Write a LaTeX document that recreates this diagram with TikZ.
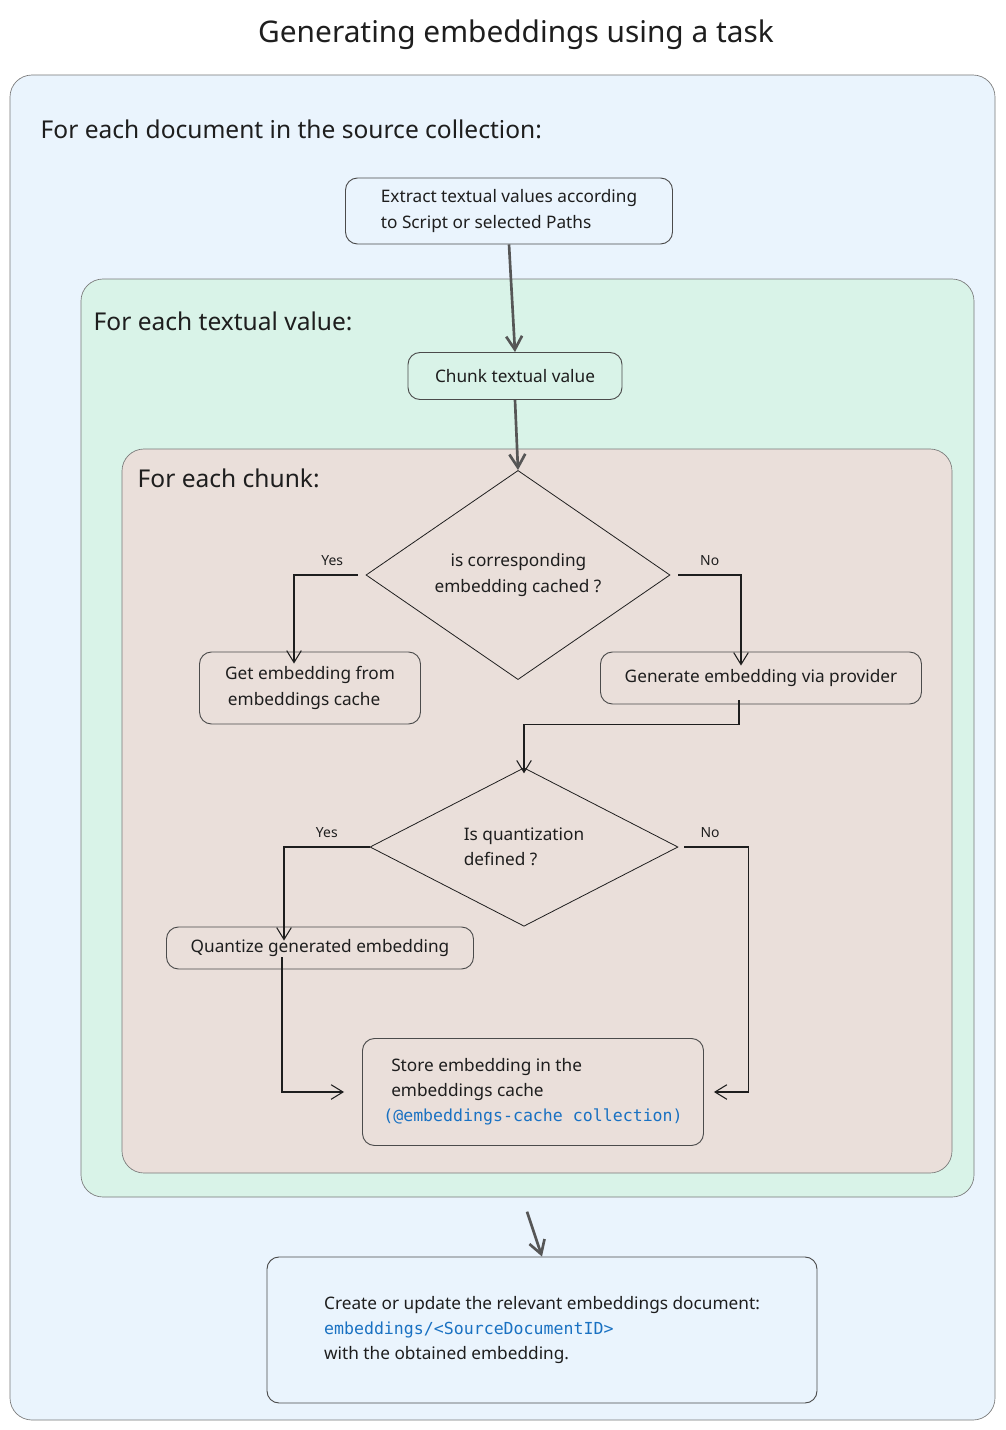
\documentclass[tikz,border=0pt]{standalone}
\usepackage{fontspec}
\setmainfont{Noto Sans}
\newfontfamily\codefont{DejaVu Sans Mono}
\usetikzlibrary{positioning,shapes.geometric,arrows.meta,calc}
\definecolor{outerbg}{HTML}{EAF4FD}
\definecolor{greenbg}{HTML}{D9F3E8}
\definecolor{chunkbg}{HTML}{EADFDA}
\definecolor{ink}{HTML}{1E1E1E}
\definecolor{codeblue}{HTML}{1971C2}
\def\u{0.0265cm}
\tikzset{
  frame/.style={draw=ink!60,rounded corners=22*\u,line width=0.5pt},
  task/.style={draw=ink!80,rounded corners=12*\u,line width=0.7pt,align=left,
    font=\fontsize{13}{19}\selectfont,text=ink,inner sep=0pt},
  choice/.style={diamond,draw=ink,line width=0.6pt,align=left,inner sep=0pt,
    font=\fontsize{13}{19}\selectfont,text=ink},
  head/.style={anchor=west,font=\fontsize{18.5}{22}\selectfont,text=ink},
  lbl/.style={font=\fontsize{10.5}{12}\selectfont,text=ink},
  flow/.style={draw=ink,line width=0.8pt,-{Straight Barb[length=9pt,width=11pt]}},
  bigflow/.style={draw=ink!75,line width=2pt,-{Straight Barb[length=10pt,width=12pt]}},
  code/.style={}
}
\newcommand\codetext{\codefont\fontsize{12.5}{19}\selectfont\color{codeblue}}
\begin{document}
\begin{tikzpicture}[x=\u,y=-\u]
\useasboundingbox (0,0) rectangle (1005,1430);
\fill[white] (0,0) rectangle (1005,1430);
% containers
\draw[frame,fill=outerbg] (10,75) rectangle (995,1420);
\draw[frame,fill=greenbg] (81,279) rectangle (974,1197);
\node (green) at (527,1197) {};
\draw[frame,fill=chunkbg] (122,449) rectangle (952,1173);
\node[font=\fontsize{22.5}{26}\selectfont,text=ink] at (516,35) {Generating embeddings using a task};
\node[head] at (36,129) {For each document in the source collection:};
\node[head] at (89,321) {For each textual value:};
\node[head] at (133,478) {For each chunk:};
% tasks
\node[task,minimum width=327*\u,minimum height=66*\u] (extract) at (509,211)
  {Extract textual values according\\to Script or selected Paths};
\node[task,minimum width=214*\u,minimum height=47*\u] (chunk) at (515,376) {Chunk textual value};
\node[choice,minimum width=304*\u,minimum height=160*\u] (cached) at (518,575)
  {\hspace*{12pt}is corresponding\\embedding cached ?};
\node[task,minimum width=221*\u,minimum height=72*\u] (get) at (310,688)
  {Get embedding from\\\,embeddings cache};
\node[task,minimum width=321*\u,minimum height=52*\u] (gen) at (761,678) {Generate embedding via provider};
\node[choice,minimum width=308*\u,minimum height=137*\u] (quant) at (524,847)
  {Is quantization\\defined ?};
\node[task,minimum width=307*\u,minimum height=42*\u] (qgen) at (320,948) {Quantize generated embedding};
\node[task,minimum width=341*\u,minimum height=107*\u] (store) at (533,1092)
  {\hspace*{6pt}Store embedding in the\\\hspace*{6pt}embeddings cache\\{\codetext(@embeddings-cache collection)}};
\node[task,minimum width=550*\u,minimum height=146*\u] (doc) at (542,1330)
  {Create or update the relevant embeddings document:\\{\codetext embeddings/<SourceDocumentID>}\\with the obtained embedding.};
% connectors
\draw[bigflow] (extract.south) -- (chunk.north);
\draw[bigflow] (chunk.south) -- (cached.north);
\draw[flow] ([xshift=-8*\u]cached.west) -| ([xshift=-16*\u,yshift=-12*\u]get.north)
  node[lbl,pos=0.2,above=3pt] {Yes};
\draw[flow] ([xshift=8*\u]cached.east) -| ([xshift=-20*\u,yshift=-14*\u]gen.north)
  node[lbl,pos=0.25,above=3pt] {No};
\draw[flow] ([xshift=-22*\u,yshift=4*\u]gen.south) -- ++(0,24) -| ([yshift=-6*\u]quant.north);
\draw[flow] (quant.west) -| ([xshift=-36*\u,yshift=-14*\u]qgen.north)
  node[lbl,pos=0.25,above=3pt] {Yes};
\draw[flow] ([xshift=6*\u]quant.east) -- ++(64,0) node[lbl,pos=0.4,above=3pt] {No}
  |- ([xshift=10*\u]store.east);
\draw[flow] ([xshift=-38*\u,yshift=12*\u]qgen.south) |- ([xshift=-18*\u]store.west);
\draw[bigflow] ([yshift=-10*\u]green.south) -- (doc.north);
\end{tikzpicture}
\end{document}
